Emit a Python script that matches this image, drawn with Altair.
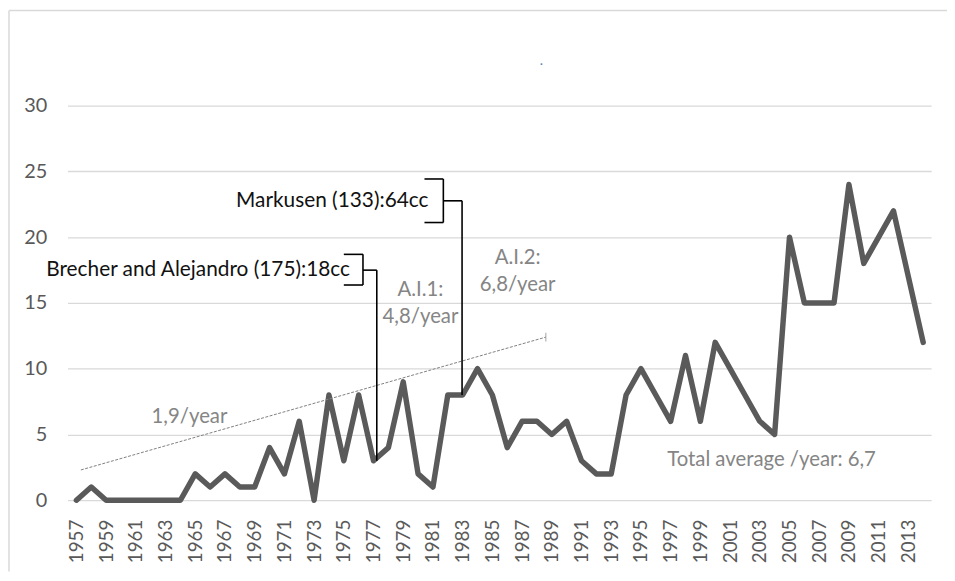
import altair as alt
import pandas as pd

# ---- data ----
years = list(range(1957, 2015))
counts = [0, 1, 0, 0, 0, 0, 0, 0, 2, 1,
          2, 1, 1, 4, 2, 6, 0, 8, 3, 8,
          3, 4, 9, 2, 1, 8, 8, 10, 8, 4,
          6, 6, 5, 6, 3, 2, 2, 8, 10, 8,
          6, 11, 6, 12, 10, 8, 6, 5, 20, 15,
          15, 15, 24, 18, 20, 22, 17, 12]

x_ticks = list(range(1957, 2014, 2))
y_ticks = [0, 5, 10, 15, 20, 25, 30]

# trend line (1,9/year)
trend_x = [1957.3, 1988.6]
trend_y = [2.3, 12.4]

# bracket segments: x, y, x2, y2 (data units)
seg_x = [1975.0, 1976.29, 1975.0, 1976.29, 1977.22,
         1980.43, 1981.70, 1980.43, 1981.70, 1982.96]
seg_y = [18.69, 18.69, 16.36, 17.49, 17.49,
         24.42, 24.42, 21.11, 22.76, 22.76]
seg_x2 = [1976.29, 1976.29, 1976.29, 1977.22, 1977.22,
          1981.70, 1981.70, 1981.70, 1982.96, 1982.96]
seg_y2 = [18.69, 16.36, 16.36, 17.49, 3.0,
          24.42, 21.11, 21.11, 22.76, 8.0]

black_labels = ["Brecher and Alejandro (175):18cc", "Markusen (133):64cc"]
black_x = [1975.42, 1980.70]
black_y = [17.49, 22.76]

gray_labels = ["A.I.1:", "4,8/year", "A.I.2:", "6,8/year", "1,9/year",
               "Total average /year: 6,7"]
gray_x = [1980.16, 1980.16, 1986.70, 1986.70, 1964.61, 2003.79]
gray_y = [15.98, 13.94, 18.39, 16.36, 6.33, 3.02]

FONT = "Lato"
D0, D1 = 1956.40, 2014.535

df = pd.DataFrame({"year": years, "count": counts})
df_trend = pd.DataFrame({"year": trend_x, "count": trend_y})
df_seg = pd.DataFrame({"x": seg_x, "y": seg_y, "x2": seg_x2, "y2": seg_y2})
df_black = pd.DataFrame({"x": black_x, "y": black_y, "t": black_labels})
df_gray = pd.DataFrame({"x": gray_x, "y": gray_y, "t": gray_labels})

xscale = alt.Scale(domain=[D0, D1], nice=False, zero=False)
yscale = alt.Scale(domain=[0, 30], nice=False)

xaxis = alt.Axis(values=x_ticks, format="d", labelAngle=270,
                 grid=False, domain=False, ticks=False,
                 labelPadding=19, labelOverlap=False,
                 labelFontSize=19, labelFont=FONT, labelColor="#595959",
                 labelAlign="right", labelBaseline="middle", title=None)
yaxis = alt.Axis(values=y_ticks, grid=True, domain=False, ticks=False,
                 labelFontSize=20, labelFont=FONT, labelColor="#595959",
                 labelPadding=21, title=None)


def X(field):
    return alt.X(field, scale=xscale, axis=xaxis, title=None)


def Y(field):
    return alt.Y(field, scale=yscale, axis=yaxis, title=None)


line = alt.Chart(df).mark_line(
    color="#5a5a5a", strokeWidth=5.5, strokeJoin="round", strokeCap="round"
).encode(x=X("year:Q"), y=Y("count:Q"))

trend = alt.Chart(df_trend).mark_line(
    color="#7f7f7f", strokeWidth=1, strokeDash=[3, 1.5]
).encode(x=X("year:Q"), y=Y("count:Q"))

trend_end = alt.Chart(df_trend.tail(1)).mark_tick(
    color="#7f7f7f", orient="vertical", size=9, thickness=1
).encode(x=X("year:Q"), y=Y("count:Q"))

segs = alt.Chart(df_seg).mark_rule(color="#000000", strokeWidth=1.6).encode(
    x=X("x:Q"), y=Y("y:Q"), x2="x2:Q", y2="y2:Q")

black_text = alt.Chart(df_black).mark_text(
    align="right", baseline="middle", font=FONT, fontSize=21, color="#111111"
).encode(x=X("x:Q"), y=Y("y:Q"), text="t:N")

gray_text = alt.Chart(df_gray).mark_text(
    align="center", baseline="middle", font=FONT, fontSize=20.5, color="#858585"
).encode(x=X("x:Q"), y=Y("y:Q"), text="t:N")

border_top = alt.Chart(df.head(1)).mark_rule(color="#d9d9d9", strokeWidth=1.5).encode(
    x=alt.value(-59), x2=alt.value(900), y=alt.value(-96))
border_left = alt.Chart(df.head(1)).mark_rule(color="#d9d9d9", strokeWidth=1.5).encode(
    x=alt.value(-59), y=alt.value(-96), y2=alt.value(470))
dot = alt.Chart(df.head(1)).mark_text(
    text=".", font=FONT, fontSize=14, color="#5b7fb5"
).encode(x=alt.value(478), y=alt.value(-45))

chart = alt.layer(
    line, trend, trend_end, segs, black_text, gray_text, border_top, border_left, dot
).properties(
    width=871, height=398,
    autosize=alt.AutoSizeParams(type="none"),
    padding={"left": 60, "top": 96, "right": 16, "bottom": 72},
    background="white",
).configure_view(
    stroke=None
).configure_axis(
    labelFont=FONT, labelColor="#595959",
    gridColor="#d9d9d9", gridWidth=1.3, tickSize=0
)

chart.save("out.html", embed_options={"renderer": "svg", "actions": False})
